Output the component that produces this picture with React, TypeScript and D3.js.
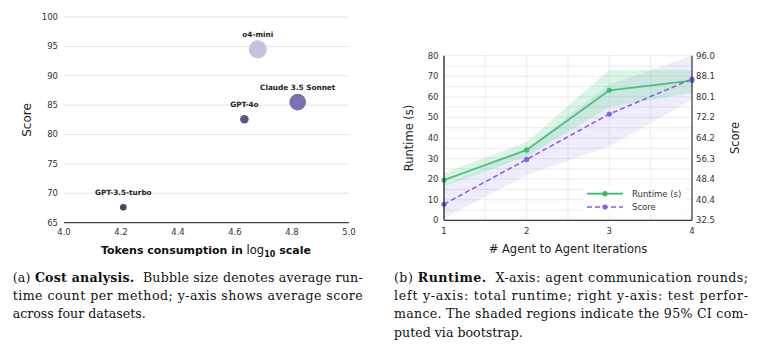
import React from "react";
import * as d3 from "d3";

// (a) cost analysis
const models = ["GPT-3.5-turbo", "GPT-4o", "Claude 3.5 Sonnet", "o4-mini"];
const tokensLog10 = [4.208, 4.633, 4.82, 4.68];
const avgScore = [67.6, 82.6, 85.5, 94.5];
const runtimeCount = [11, 18.5, 69, 81];
const bubbleColors = ["#4a4766", "#5b5584", "#7a70b5", "#c5c2dd"];
const scoreTicks = [65, 70, 75, 80, 85, 90, 95, 100];
const tokenTicks = [4.0, 4.2, 4.4, 4.6, 4.8, 5.0];

// (b) runtime vs iterations
const iterations = [1, 2, 3, 4];
const runtime = [19.5, 34.2, 63.2, 67.9];
const runtimeLo = [16.5, 31, 55, 62];
const runtimeHi = [23, 38, 73, 73];
const score = [38.7, 56.0, 73.5, 87.0];
const scoreLo = [33.3, 50, 61, 79];
const scoreHi = [46, 60, 85, 96];
const runtimeTicks = [0, 10, 20, 30, 40, 50, 60, 70, 80];
const scoreTickLabels = ["32.5", "40.4", "48.4", "56.3", "64.2", "72.2", "80.1", "88.1", "96.0"];

const SANS = "DejaVu Sans, sans-serif";
const SERIF = "DejaVu Serif, serif";

const CostChart = () => {
  const x = d3.scaleLinear().domain([4.0, 5.0]).range([64, 349]);
  const y = d3.scaleLinear().domain([65, 100]).range([222.6, 17]);
  const r = d3.scaleSqrt().domain([0, d3.max(runtimeCount)]).range([0, 9]);
  const pts = models.map((m, i) => ({ m, x: tokensLog10[i], y: avgScore[i], s: runtimeCount[i], c: bubbleColors[i] }));
  return (
    <g>
      {scoreTicks.map((t) => (
        <g key={t}>
          {t > 65 && <line x1={64} x2={349} y1={y(t)} y2={y(t)} stroke="#e4e4e4" strokeWidth={1} />}
          <text x={58} y={y(t) + 3} textAnchor="end" fontSize={8.5} fill="#333" fontFamily={SANS}>{t}</text>
        </g>
      ))}
      <line x1={64} x2={349} y1={y(65)} y2={y(65)} stroke="#444" strokeWidth={1.2} />
      {tokenTicks.map((t) => (
        <text key={t} x={x(t)} y={235} textAnchor="middle" fontSize={8.5} fill="#333" fontFamily={SANS}>{t.toFixed(1)}</text>
      ))}
      {pts.map((p) => (
        <circle key={p.m} cx={x(p.x)} cy={y(p.y)} r={r(p.s)} fill={p.c} />
      ))}
      {pts.map((p) => (
        <text key={p.m} x={x(p.x)} y={y(p.y) - 12.5} textAnchor="middle" fontSize={7.3} fontWeight="bold" fill="#222" fontFamily={SANS}>{p.m}</text>
      ))}
      <text transform="translate(31,120) rotate(-90)" textAnchor="middle" fontSize={12} fill="#222" fontFamily={SANS}>Score</text>
      <text x={206} y={254} textAnchor="middle" fontSize={11} fontWeight="bold" fill="#111" fontFamily={SANS}>
        Tokens consumption in <tspan fontWeight="normal" fontSize={11.5}>log</tspan>
        <tspan fontSize={8} dy={3}>10</tspan>
        <tspan dy={-3} dx={4}>scale</tspan>
      </text>
    </g>
  );
};

const RuntimeChart = () => {
  const left = 444, right = 692, top = 55.7, bottom = 220.3;
  const x = d3.scaleLinear().domain([1, 4]).range([left, right]);
  const yL = d3.scaleLinear().domain([0, 80]).range([bottom, top]);
  const yR = d3.scaleLinear().domain([32.5, 96]).range([bottom, top]);
  const idx = iterations.map((_, i) => i);
  const rtArea = d3.area<number>().x((i) => x(iterations[i])).y0((i) => yL(runtimeLo[i])).y1((i) => yL(runtimeHi[i]));
  const scArea = d3.area<number>().x((i) => x(iterations[i])).y0((i) => yR(scoreLo[i])).y1((i) => yR(scoreHi[i]));
  const rtLine = d3.line<number>().x((i) => x(iterations[i])).y((i) => yL(runtime[i]));
  const scLine = d3.line<number>().x((i) => x(iterations[i])).y((i) => yR(score[i]));
  const hGrid = d3.range(0, 81, 5);
  const vGrid = d3.range(1, 4.01, 0.5);
  const green = "#34b86a";
  const purple = "#8b5fe6";
  return (
    <g>
      {hGrid.map((t) => (
        <line key={"h" + t} x1={left} x2={right} y1={yL(t)} y2={yL(t)} stroke="#e6e6e6" strokeWidth={0.8} />
      ))}
      {vGrid.map((t) => (
        <line key={"v" + t} x1={x(t)} x2={x(t)} y1={top} y2={bottom} stroke="#e6e6e6" strokeWidth={0.8} />
      ))}
      <path d={scArea(idx) || ""} fill="#9d86ec" fillOpacity={0.16} />
      <path d={rtArea(idx) || ""} fill="#3fd47f" fillOpacity={0.2} />
      <path d={rtLine(idx) || ""} fill="none" stroke={green} strokeWidth={1.8} strokeOpacity={0.85} />
      {idx.map((i) => (
        <circle key={"rt" + i} cx={x(iterations[i])} cy={yL(runtime[i])} r={2.6} fill={green} fillOpacity={0.85} />
      ))}
      <path d={scLine(idx) || ""} fill="none" stroke={purple} strokeWidth={1.6} strokeDasharray="5,3" />
      {idx.map((i) => (
        <circle key={"sc" + i} cx={x(iterations[i])} cy={yR(score[i])} r={2.6} fill={purple} />
      ))}
      <line x1={left} x2={left} y1={top} y2={bottom} stroke="#111" strokeWidth={1.2} />
      <line x1={right} x2={right} y1={top} y2={bottom} stroke="#111" strokeWidth={1} />
      <line x1={left} x2={right} y1={bottom} y2={bottom} stroke="#111" strokeWidth={1} />
      {runtimeTicks.map((t) => (
        <text key={"l" + t} x={438.5} y={yL(t) + 3} textAnchor="end" fontSize={8.5} fill="#333" fontFamily={SANS}>{t}</text>
      ))}
      {scoreTickLabels.map((t) => (
        <text key={"r" + t} x={696} y={yR(+t) + 3} fontSize={8.5} fill="#333" fontFamily={SANS}>{t}</text>
      ))}
      {iterations.map((t) => (
        <text key={"x" + t} x={x(t)} y={234} textAnchor="middle" fontSize={8.5} fill="#333" fontFamily={SANS}>{t}</text>
      ))}
      <text transform="translate(413,138) rotate(-90)" textAnchor="middle" fontSize={11.5} fill="#222" fontFamily={SANS}>Runtime (s)</text>
      <text transform="translate(739,138) rotate(-90)" textAnchor="middle" fontSize={11.5} fill="#222" fontFamily={SANS}>Score</text>
      <text x={568} y={253} textAnchor="middle" fontSize={11.5} fill="#222" fontFamily={SANS}># Agent to Agent Iterations</text>
      <g>
        <rect x={584} y={186} width={103} height={28} fill="#fff" fillOpacity={0.8} rx={2} />
        <line x1={587} x2={623} y1={193.7} y2={193.7} stroke={green} strokeWidth={1.8} />
        <circle cx={605} cy={193.7} r={2.6} fill={green} />
        <text x={632} y={196.7} fontSize={8.5} fill="#333" fontFamily={SANS}>Runtime (s)</text>
        <line x1={587} x2={623} y1={207} y2={207} stroke={purple} strokeWidth={1.6} strokeDasharray="5,3" />
        <circle cx={605} cy={207} r={2.6} fill={purple} />
        <text x={632} y={210} fontSize={8.5} fill="#333" fontFamily={SANS}>Score</text>
      </g>
    </g>
  );
};

const Caption = ({ x, width, lines }: { x: number; width: number; lines: { bold?: string; text: string }[] }) => (
  <g>
    {lines.map((l, i) => {
      const last = i === lines.length - 1;
      return (
        <text key={i} x={x} y={281.7 + i * 18.3} fontSize={12.6} fill="#111" fontFamily={SERIF} xmlSpace="preserve"
          {...(last ? {} : { textLength: width, lengthAdjust: "spacing" })}>
          {l.bold !== undefined && <tspan>{l.bold.split("|")[0]}</tspan>}
          {l.bold !== undefined && <tspan fontWeight="bold">{l.bold.split("|")[1]}</tspan>}
          {l.text}
        </text>
      );
    })}
  </g>
);

const captionA = [
  { bold: "(a) |Cost analysis.", text: "\u00a0 Bubble size denotes average run-" },
  { text: "time count per method; y-axis shows average score" },
  { text: "across four datasets." },
];
const captionB = [
  { bold: "(b) |Runtime.", text: "\u00a0 X-axis: agent communication rounds;" },
  { text: "left y-axis: total runtime; right y-axis: test perfor-" },
  { text: "mance. The shaded regions indicate the 95% CI com-" },
  { text: "puted via bootstrap." },
];

export default function App() {
  return (
    <svg width={780} height={352} style={{ position: "absolute", left: 0, top: 0, background: "#fff" }}>
      <rect width={780} height={352} fill="#fff" />
      <CostChart />
      <RuntimeChart />
      <Caption x={12.7} width={350} lines={captionA} />
      <Caption x={394} width={354} lines={captionB} />
    </svg>
  );
}
